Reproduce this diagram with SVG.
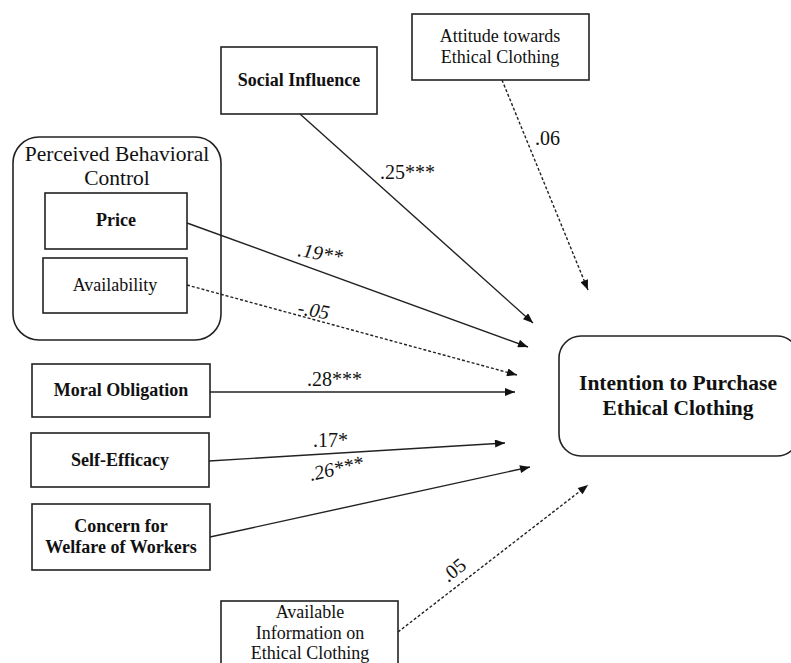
<svg xmlns="http://www.w3.org/2000/svg" width="791" height="663" viewBox="0 0 791 663">
<style>
.box{fill:#fff;stroke:#222;stroke-width:1.6}
.t{font-size:18px;fill:#111;text-anchor:middle}
.big{font-size:21.5px}
.b{font-weight:bold}
.lbl{font-size:20px;fill:#111}
.it{font-style:italic}
.ln{fill:none;stroke:#222;stroke-width:1.4}
.d{stroke-dasharray:3 2}
</style>
<defs>
<marker id="ah" viewBox="0 0 10 8" refX="10" refY="4" markerWidth="11" markerHeight="8" markerUnits="userSpaceOnUse" orient="auto">
<path d="M0,0 L10,4 L0,8 z" fill="#111"/>
</marker>
</defs>
<rect width="791" height="663" fill="#fff"/>
<g font-family="'Liberation Serif', 'Times New Roman', 'DejaVu Serif', serif">
<g id="pbc">
<rect class="box" x="13" y="137" width="208" height="203" rx="26"/>
<text class="t big" x="117" y="161">Perceived Behavioral</text>
<text class="t big" x="117" y="185">Control</text>
</g>
<g id="price">
<rect class="box" x="45" y="193" width="142" height="56"/>
<text class="t b" x="116" y="226">Price</text>
</g>
<g id="availability">
<rect class="box" x="43" y="258" width="144" height="55"/>
<text class="t" x="115" y="291">Availability</text>
</g>
<g id="social">
<rect class="box" x="221" y="47" width="156" height="67"/>
<text class="t b" x="299" y="86">Social Influence</text>
</g>
<g id="attitude">
<rect class="box" x="412" y="14" width="177" height="66"/>
<text class="t" x="500" y="42">Attitude towards</text>
<text class="t" x="500" y="63">Ethical Clothing</text>
</g>
<g id="moral">
<rect class="box" x="32" y="364" width="178" height="53"/>
<text class="t b" x="121" y="396">Moral Obligation</text>
</g>
<g id="selfeff">
<rect class="box" x="31" y="433" width="178" height="54"/>
<text class="t b" x="120" y="466">Self-Efficacy</text>
</g>
<g id="concern">
<rect class="box" x="32" y="504" width="178" height="66"/>
<text class="t b" x="121" y="532">Concern for</text>
<text class="t b" x="121" y="553">Welfare of Workers</text>
</g>
<g id="info">
<rect class="box" x="221" y="601" width="177" height="70"/>
<text class="t" x="310" y="618">Available</text>
<text class="t" x="310" y="639">Information on</text>
<text class="t" x="310" y="659">Ethical Clothing</text>
</g>
<g id="intention">
<rect class="box" x="559" y="336" width="240" height="120" rx="22"/>
<text class="t b big" x="678" y="390">Intention to Purchase</text>
<text class="t b big" x="678" y="415">Ethical Clothing</text>
</g>
<g id="connectors">
<line class="ln" x1="300" y1="114" x2="533" y2="323" marker-end="url(#ah)"/>
<line class="ln d" x1="502" y1="80" x2="588" y2="290" marker-end="url(#ah)"/>
<line class="ln" x1="187" y1="223" x2="528" y2="347" marker-end="url(#ah)"/>
<line class="ln d" x1="187" y1="285" x2="517" y2="375" marker-end="url(#ah)"/>
<line class="ln" x1="210" y1="392" x2="515" y2="392" marker-end="url(#ah)"/>
<line class="ln" x1="209" y1="461" x2="505" y2="443" marker-end="url(#ah)"/>
<line class="ln" x1="210" y1="537" x2="530" y2="467" marker-end="url(#ah)"/>
<line class="ln d" x1="398" y1="632" x2="588" y2="485" marker-end="url(#ah)"/>
</g>
<g id="labels">
<text class="lbl" x="380" y="179">.25***</text>
<text class="lbl" x="535" y="145">.06</text>
<text class="lbl it" x="297" y="256" transform="rotate(10 297 256)">.19**</text>
<text class="lbl it" x="297" y="314" transform="rotate(10 297 314)">-.05</text>
<text class="lbl" x="307" y="386">.28***</text>
<text class="lbl" x="313" y="447">.17*</text>
<text class="lbl it" x="311" y="481" transform="rotate(-13 311 481)">.26***</text>
<text class="lbl" x="448" y="583" transform="rotate(-38 448 583)">.05</text>
</g>
</g>
</svg>
